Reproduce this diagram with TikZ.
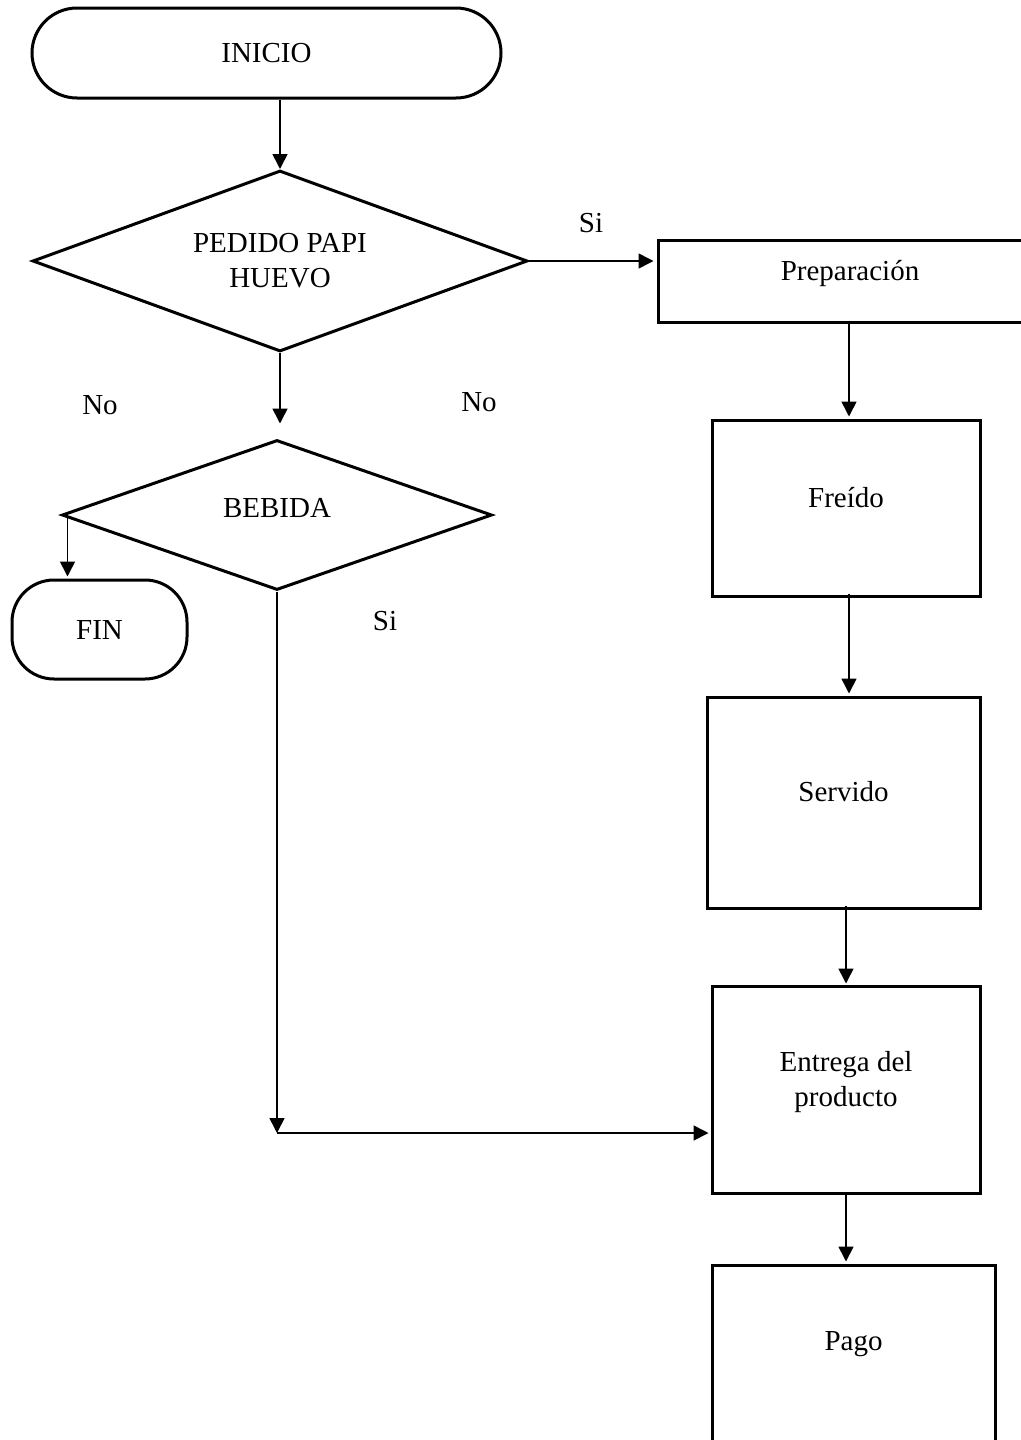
\documentclass[tikz,border=0pt]{standalone}
\usepackage{fontspec}
\setmainfont{Liberation Serif}
\usetikzlibrary{arrows.meta,shapes.geometric}
\begin{document}
\begin{tikzpicture}[x=1pt,y=-1pt,
  every node/.style={font=\fontsize{29}{35}\selectfont, align=center, inner sep=0pt},
  term/.style={draw, line width=3pt, rounded corners=45pt},
  decision/.style={draw, diamond, line width=3pt},
  stepbox/.style={draw, rectangle, line width=3pt},
  raised/.style={text depth=22pt},
  arr/.style={line width=1.6pt, -{Triangle[length=15pt,width=15pt]}},
  lbl/.style={}]
\useasboundingbox (0,0) rectangle (1020,1440);

% shapes
\node[term, minimum width=469pt, minimum height=90pt] (ini) at (266.5,53) {INICIO};
\node[decision, aspect=2.73, minimum width=495pt, minimum height=181pt] (ped) at (280,261) {PEDIDO PAPI\\HUEVO};
\node[decision, aspect=2.87, minimum width=430pt, minimum height=150pt, text depth=14pt] (beb) at (277,515) {BEBIDA};
\node[term, minimum width=175pt, minimum height=99pt, rounded corners=42pt] (fin) at (99.5,629.5) {FIN};

\node[stepbox, minimum width=384pt, minimum height=82pt, raised] (prep) at (850,281) {Preparación};
\node[stepbox, minimum width=268pt, minimum height=176pt, raised] (fre) at (846,508) {Freído};
\node[stepbox, minimum width=273pt, minimum height=211pt, raised] (serv) at (843.5,802.5) {Servido};
\node[stepbox, minimum width=268pt, minimum height=207pt, raised] (ent) at (846,1089.5) {Entrega del\\producto};
\node[stepbox, minimum width=283pt, minimum height=210pt, text depth=58pt] (pago) at (853.5,1370) {Pago};

% labels
\node[lbl] (si1) at (591,223) {Si};
\node[lbl] (no1) at (100,405) {No};
\node[lbl] (no2) at (479,402) {No};
\node[lbl] (si2) at (385,621) {Si};

% connectors
\draw[arr] (ped.north |- ini.south) -- (ped.north);
\draw[arr, shorten >=3pt] (ped.east) -- (ped.east -| prep.west);
\draw[arr, shorten >=15pt] (ped.south) -- (ped.south |- beb.north);
\coordinate (bw) at ([xshift=7pt]beb.west);
\draw[arr, shorten >=2pt] (bw) -- (bw |- fin.north);
\coordinate (j) at (beb.south |- 0,1133);
\draw[arr] (beb.south) -- (j);
\draw[arr, shorten >=2pt] (j) -- (j -| ent.west);

\draw[arr, shorten >=2pt] (fre.north -| 849,0) ++(0,-98) -- (fre.north -| 849,0);
\draw[arr, shorten >=2pt] ([yshift=4pt]fre.south -| 849,0) -- (serv.north -| 849,0);
\draw[arr, shorten >=1pt] ([yshift=4pt]serv.south -| 846,0) -- (ent.north -| 846,0);
\draw[arr, shorten >=2pt] (ent.south -| 846,0) -- (pago.north -| 846,0);
\end{tikzpicture}
\end{document}
